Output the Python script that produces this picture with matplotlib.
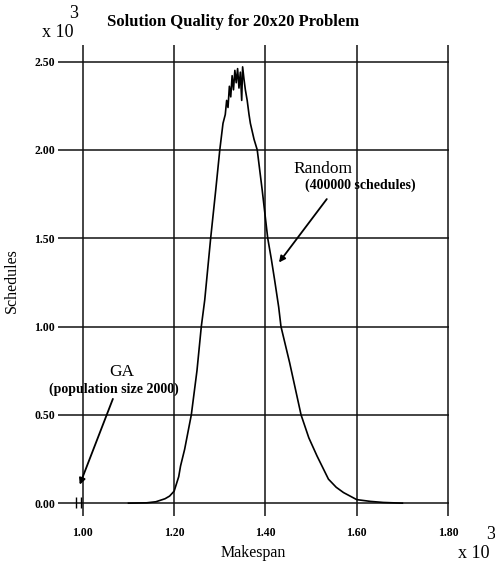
import matplotlib.pyplot as plt

plt.rcParams['font.family'] = ['Liberation Serif', 'DejaVu Serif']

# Random schedules: makespan (x 10^3) vs number of schedules (x 10^3)
makespan = [1.10, 1.14, 1.16, 1.18, 1.19, 1.20, 1.21, 1.214, 1.223, 1.2376,
            1.25, 1.2595, 1.267, 1.280, 1.291, 1.300, 1.307, 1.312, 1.315, 1.318,
            1.321, 1.324, 1.327, 1.330, 1.333, 1.336, 1.339, 1.342, 1.345, 1.348,
            1.350, 1.353, 1.356, 1.360, 1.364, 1.367, 1.375, 1.382, 1.393, 1.405,
            1.413, 1.420, 1.429, 1.434, 1.453, 1.478, 1.495, 1.513, 1.538, 1.555,
            1.571, 1.600, 1.630, 1.658, 1.70]
schedules = [0.0, 0.002, 0.008, 0.025, 0.04, 0.068, 0.15, 0.21, 0.305, 0.50,
             0.75, 1.00, 1.15, 1.50, 1.77, 2.00, 2.15, 2.20, 2.28, 2.24,
             2.36, 2.30, 2.42, 2.34, 2.45, 2.38, 2.46, 2.35, 2.44, 2.28,
             2.47, 2.40, 2.34, 2.28, 2.20, 2.15, 2.06, 2.00, 1.77, 1.50,
             1.38, 1.265, 1.11, 1.00, 0.795, 0.50, 0.37, 0.267, 0.136, 0.09,
             0.06, 0.02, 0.01, 0.004, 0.0]

# GA results (population size 2000)
ga_makespan = [0.985, 0.995]

xticks = [1.00, 1.20, 1.40, 1.60, 1.80]
yticks = [0.00, 0.50, 1.00, 1.50, 2.00, 2.50]

fig = plt.figure(figsize=(4.95, 5.64), dpi=100)
ax = fig.add_axes([0.117, 0.085, 0.790, 0.835])

ax.set_xlim(0.9454, 1.802)
ax.set_ylim(-0.073, 2.593)
for s in ax.spines.values():
    s.set_visible(False)

for x in xticks:
    ax.axvline(x, color='#111111', lw=1.1, zorder=1)
for y in yticks:
    ax.axhline(y, color='#111111', lw=1.1, zorder=1)

ax.plot(makespan, schedules, color='black', lw=1.2, zorder=3)
ax.vlines(ga_makespan, -0.03, 0.035, color='black', lw=1.0, zorder=3)

ax.set_xticks(xticks)
ax.set_xticklabels(['%.2f' % v for v in xticks])
ax.set_yticks(yticks)
ax.set_yticklabels(['%.2f' % v for v in yticks])
ax.tick_params(length=0, labelsize=8.5, pad=2)
ax.tick_params(axis='x', pad=8)
for lab in ax.get_xticklabels() + ax.get_yticklabels():
    lab.set_fontweight('bold')

ax.set_xlabel('Makespan', fontsize=11.5, labelpad=4)
ax.set_ylabel('Schedules', fontsize=11.5, labelpad=10)

fig.text(0.47, 0.961, 'Solution Quality for 20x20 Problem', ha='center', va='center',
         fontsize=12, fontweight='bold')
fig.text(0.085, 0.942, 'x 10', ha='left', va='center', fontsize=13)
fig.text(0.139, 0.976, '3', ha='left', va='center', fontsize=13)
fig.text(0.925, 0.018, 'x 10', ha='left', va='center', fontsize=13)
fig.text(0.983, 0.052, '3', ha='left', va='center', fontsize=13)

ax.text(1.527, 1.893, 'Random', ha='center', va='center', fontsize=12.5)
ax.text(1.608, 1.797, '(400000 schedules)', ha='center', va='center', fontsize=10,
        fontweight='bold')
ax.annotate('', xy=(1.426, 1.35), xytext=(1.538, 1.734),
            arrowprops=dict(arrowstyle='-|>', color='black', lw=1.3, mutation_scale=9))

ax.text(1.085, 0.745, 'GA', ha='center', va='center', fontsize=12.5)
ax.text(1.068, 0.645, '(population size 2000)', ha='center', va='center', fontsize=10,
        fontweight='bold')
ax.annotate('', xy=(0.991, 0.09), xytext=(1.068, 0.605),
            arrowprops=dict(arrowstyle='-|>', color='black', lw=1.3, mutation_scale=9))

fig.savefig('out.png', dpi=100)
